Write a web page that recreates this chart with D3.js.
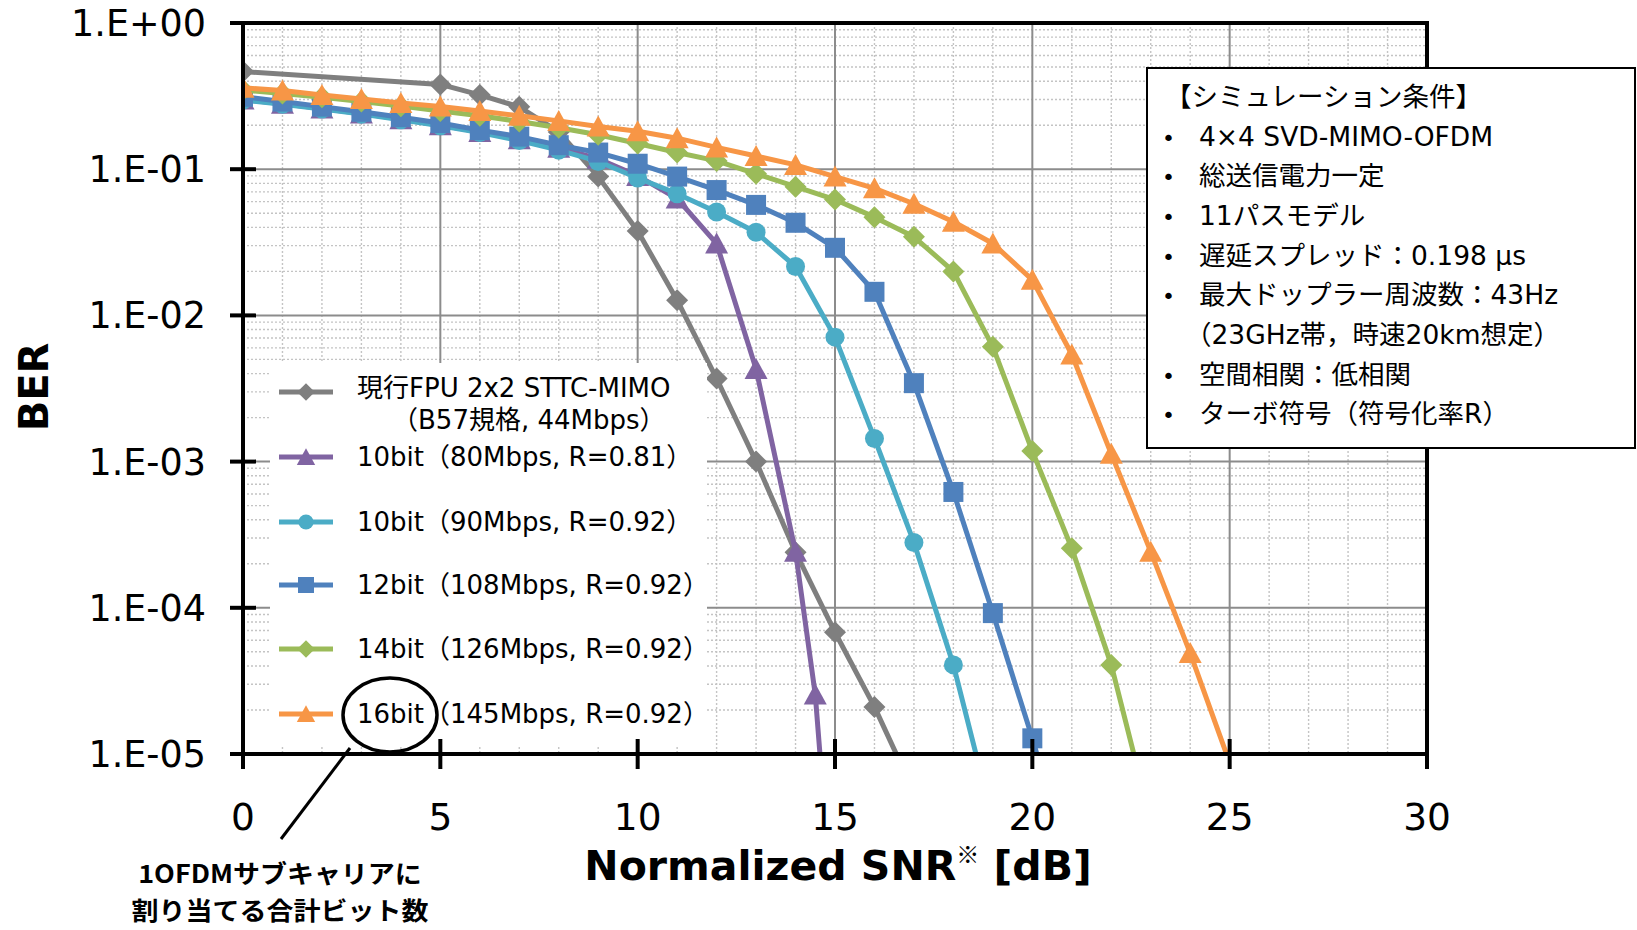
<!DOCTYPE html>
<html><head><meta charset="utf-8">
<script src="https://cdn.jsdelivr.net/npm/d3@7"></script>
<style>body{margin:0;background:#fff} svg{display:block}</style>
</head><body>
<svg id="c" width="1637" height="930"></svg>
<script>
// ---------------- DATA ----------------
const seriesLabels = [
  ["現行FPU 2x2 STTC-MIMO", "（B57規格, 44Mbps）"],
  ["10bit（80Mbps, R=0.81）"],
  ["10bit（90Mbps, R=0.92）"],
  ["12bit（108Mbps, R=0.92）"],
  ["14bit（126Mbps, R=0.92）"],
  ["16bit（145Mbps, R=0.92）"]
];
const snrFPU   = [0,5,6,7,8,9,10,11,12,13,14,15,16,17];
const berFPU   = [0.465,0.38,0.322,0.267,0.18,0.089,0.0378,0.0127,0.0037,0.001,0.00024,0.000068,0.000021,0.0000055];
const snr10a   = [0,1,2,3,4,5,6,7,8,9,10,11,12,13,14,14.5,15];
const ber10a   = [0.30,0.28,0.26,0.24,0.22,0.20,0.18,0.16,0.14,0.118,0.09,0.063,0.031,0.0043,0.000242,0.0000255,0.0000005];
const snr10b   = [0,1,2,3,4,5,6,7,8,9,10,11,12,13,14,15,16,17,18,19];
const ber10b   = [0.297,0.278,0.258,0.238,0.218,0.198,0.178,0.157,0.135,0.113,0.087,0.068,0.051,0.037,0.0216,0.0071,0.00144,0.00028,0.0000407,0.0000035];
const snr12    = [0,1,2,3,4,5,6,7,8,9,10,11,12,13,14,15,16,17,18,19,20,21];
const ber12    = [0.313,0.29,0.268,0.247,0.227,0.207,0.185,0.167,0.146,0.13,0.109,0.089,0.072,0.057,0.043,0.029,0.0145,0.00344,0.00062,0.000092,0.0000128,0.0000015];
const snr14    = [0,1,2,3,4,5,6,7,8,9,10,11,12,13,14,15,16,17,18,19,20,21,22,23];
const ber14    = [0.348,0.33,0.31,0.29,0.27,0.25,0.232,0.212,0.192,0.172,0.15,0.13,0.114,0.093,0.076,0.062,0.047,0.0345,0.02,0.0061,0.00118,0.000255,0.0000407,0.0000035];
const snr16    = [0,1,2,3,4,5,6,7,8,9,10,11,12,13,14,15,16,17,18,19,20,21,22,23,24,25];
const ber16    = [0.36,0.345,0.322,0.302,0.284,0.268,0.25,0.232,0.214,0.196,0.182,0.163,0.141,0.123,0.107,0.089,0.074,0.058,0.0437,0.031,0.0175,0.0054,0.00113,0.000242,0.000049,0.0000087];

const xTickValues = [0,5,10,15,20,25,30];
const yTickValues = [1,1e-1,1e-2,1e-3,1e-4,1e-5];
const yTickLabels = ["1.E+00","1.E-01","1.E-02","1.E-03","1.E-04","1.E-05"];
const xTitle = "Normalized SNR", xTitleMark = "※", xTitleUnit = " [dB]";
const yTitle = "BER";
const condTitle = "【シミュレーション条件】";
const condItems = [
  ["•","4×4 SVD-MIMO-OFDM"],
  ["•","総送信電力一定"],
  ["•","11パスモデル"],
  ["•","遅延スプレッド：0.198 μs"],
  ["•","最大ドップラー周波数：43Hz"],
  ["","（23GHz帯，時速20km想定）"],
  ["•","空間相関：低相関"],
  ["•","ターボ符号（符号化率R）"]
];
const noteLines = ["1OFDMサブキャリアに","割り当てる合計ビット数"];

// ---------------- STYLE / LAYOUT ----------------
const colors = ["#7f7f7f","#8064a2","#4bacc6","#4f81bd","#9bbb59","#f79646"];
const markers = ["diamond","triangle","circle","square","diamond","triangle"];
const snrs = [snrFPU,snr10a,snr10b,snr12,snr14,snr16];
const bers = [berFPU,ber10a,ber10b,ber12,ber14,ber16];
const series = snrs.map((s,i)=>({label:seriesLabels[i], color:colors[i], marker:markers[i],
  pts:s.map((x,j)=>({x, y:bers[i][j]}))}));

const L=243, R=1427, T=23, B=754;
const FONT = "'DejaVu Sans','Noto Sans CJK JP',sans-serif";
const CJK = "'Noto Sans CJK JP','DejaVu Sans',sans-serif";
const svg = d3.select("#c");
svg.append("rect").attr("width",1637).attr("height",930).attr("fill","#fff");

const x = d3.scaleLinear().domain([0,30]).range([L,R]);
const y = d3.scaleLog().domain([1e-5,1]).range([B,T]);

// minor grid
const g = svg.append("g");
const minorX = d3.range(0,31).filter(v=>v%5!==0);
g.selectAll(".mx").data(minorX).join("line")
  .attr("x1",d=>x(d)).attr("x2",d=>x(d)).attr("y1",T).attr("y2",B)
  .attr("stroke","#c4c4c4").attr("stroke-width",1.4).attr("stroke-dasharray","2,2");
const minorY = [];
for (let e=-5;e<0;e++) for (let m=2;m<=9;m++) minorY.push(m*Math.pow(10,e));
g.selectAll(".my").data(minorY).join("line")
  .attr("x1",L).attr("x2",R).attr("y1",d=>y(d)).attr("y2",d=>y(d))
  .attr("stroke","#c4c4c4").attr("stroke-width",1.4).attr("stroke-dasharray","2,2");
// major grid
g.selectAll(".Mx").data(xTickValues).join("line")
  .attr("x1",d=>x(d)).attr("x2",d=>x(d)).attr("y1",T).attr("y2",B)
  .attr("stroke","#8c8c8c").attr("stroke-width",2);
g.selectAll(".My").data(yTickValues).join("line")
  .attr("x1",L).attr("x2",R).attr("y1",d=>y(d)).attr("y2",d=>y(d))
  .attr("stroke","#8c8c8c").attr("stroke-width",2);

// markers
function markerPath(type){
  if (type==="diamond") return "M0,-11L11,0L0,11L-11,0Z";
  if (type==="triangle") return "M0,-11L11.5,10L-11.5,10Z";
  if (type==="square") return "M-10,-10H10V10H-10Z";
  return d3.symbol().type(d3.symbolCircle).size(Math.PI*9.5*9.5)();
}

// series
svg.append("defs").append("clipPath").attr("id","clip")
  .append("rect").attr("x",L).attr("y",T).attr("width",R-L).attr("height",B-T);
const plot = svg.append("g").attr("clip-path","url(#clip)");
const line = d3.line().x(d=>x(d.x)).y(d=>y(d.y));
series.forEach(s=>{
  const gs = plot.append("g");
  gs.append("path").attr("d",line(s.pts)).attr("fill","none")
    .attr("stroke",s.color).attr("stroke-width",5).attr("stroke-linejoin","round");
  gs.selectAll("path.m").data(s.pts).join("path").attr("class","m")
    .attr("d",markerPath(s.marker))
    .attr("transform",d=>`translate(${x(d.x)},${y(d.y)})`)
    .attr("fill",s.color);
});

// legend
svg.append("rect").attr("x",270).attr("y",363).attr("width",437).attr("height",384).attr("fill","#fff");
const legY = [392,457,522,585,649,714];
series.forEach((s,i)=>{
  const yy = legY[i];
  svg.append("line").attr("x1",279).attr("x2",333).attr("y1",yy).attr("y2",yy)
    .attr("stroke",s.color).attr("stroke-width",5);
  svg.append("path").attr("d",markerPath(s.marker))
    .attr("transform",`translate(306,${yy}) scale(0.8)`).attr("fill",s.color);
  if (s.label.length===1){
    svg.append("text").attr("x",357).attr("y",yy+9).text(s.label[0])
      .attr("font-family",FONT).attr("font-size",26).attr("fill","#000");
  } else {
    svg.append("text").attr("x",357).attr("y",yy+5).text(s.label[0])
      .attr("font-family",FONT).attr("font-size",26).attr("fill","#000");
    svg.append("text").attr("x",392).attr("y",yy+37).text(s.label[1])
      .attr("font-family",FONT).attr("font-size",26).attr("fill","#000");
  }
});

// frame & axes
svg.append("rect").attr("x",L).attr("y",T).attr("width",R-L).attr("height",B-T)
  .attr("fill","none").attr("stroke","#000").attr("stroke-width",4);
svg.selectAll(".yt").data(yTickValues).join("line")
  .attr("x1",L-13).attr("x2",L+13).attr("y1",d=>y(d)).attr("y2",d=>y(d))
  .attr("stroke","#000").attr("stroke-width",4);
svg.selectAll(".xt").data(xTickValues).join("line")
  .attr("x1",d=>x(d)).attr("x2",d=>x(d)).attr("y1",B-15).attr("y2",B+15)
  .attr("stroke","#000").attr("stroke-width",4);
svg.selectAll(".yl").data(yTickValues).join("text")
  .attr("x",206).attr("y",d=>y(d)+13).attr("text-anchor","end")
  .attr("font-family",FONT).attr("font-size",36.5).text((d,i)=>yTickLabels[i]);
svg.selectAll(".xl").data(xTickValues).join("text")
  .attr("x",d=>x(d)).attr("y",830).attr("text-anchor","middle")
  .attr("font-family",FONT).attr("font-size",37.5).text(d=>d);

// titles
svg.append("text").attr("transform","translate(48,387) rotate(-90)")
  .attr("text-anchor","middle").attr("font-family",FONT).attr("font-weight","bold")
  .attr("font-size",40).text(yTitle);
const xt = svg.append("text").attr("x",838).attr("y",880).attr("text-anchor","middle")
  .attr("font-family",FONT).attr("font-weight","bold").attr("font-size",41);
xt.append("tspan").text(xTitle);
xt.append("tspan").attr("font-size",23).attr("dy",-17).attr("font-family",CJK).text(xTitleMark);
xt.append("tspan").attr("dy",17).text(xTitleUnit);

// conditions box
svg.append("rect").attr("x",1147).attr("y",68).attr("width",488).attr("height",380)
  .attr("fill","#fff").attr("stroke","#000").attr("stroke-width",2);
svg.append("text").attr("x",1165).attr("y",106).attr("font-family",FONT).attr("font-size",26.5).text(condTitle);
condItems.forEach((it,i)=>{
  const yy = 136 + i*39.7 + 9.5;
  if (it[0]) svg.append("text").attr("x",1162).attr("y",yy).attr("font-family",FONT).attr("font-size",22).text(it[0]);
  svg.append("text").attr("x", it[0] ? 1199 : 1185).attr("y",yy)
    .attr("font-family",FONT).attr("font-size",26.5).text(it[1]);
});

// annotation
svg.append("ellipse").attr("cx",390).attr("cy",715).attr("rx",47).attr("ry",37)
  .attr("fill","none").attr("stroke","#000").attr("stroke-width",3.5);
svg.append("line").attr("x1",350).attr("y1",748).attr("x2",281).attr("y2",839)
  .attr("stroke","#000").attr("stroke-width",3);
noteLines.forEach((t,i)=>{
  svg.append("text").attr("transform",`translate(280,${883+i*37}) scale(1.08,1)`)
    .attr("text-anchor","middle")
    .attr("font-family",CJK).attr("font-weight","bold").attr("font-size",25).text(t);
});
</script>
</body></html>
